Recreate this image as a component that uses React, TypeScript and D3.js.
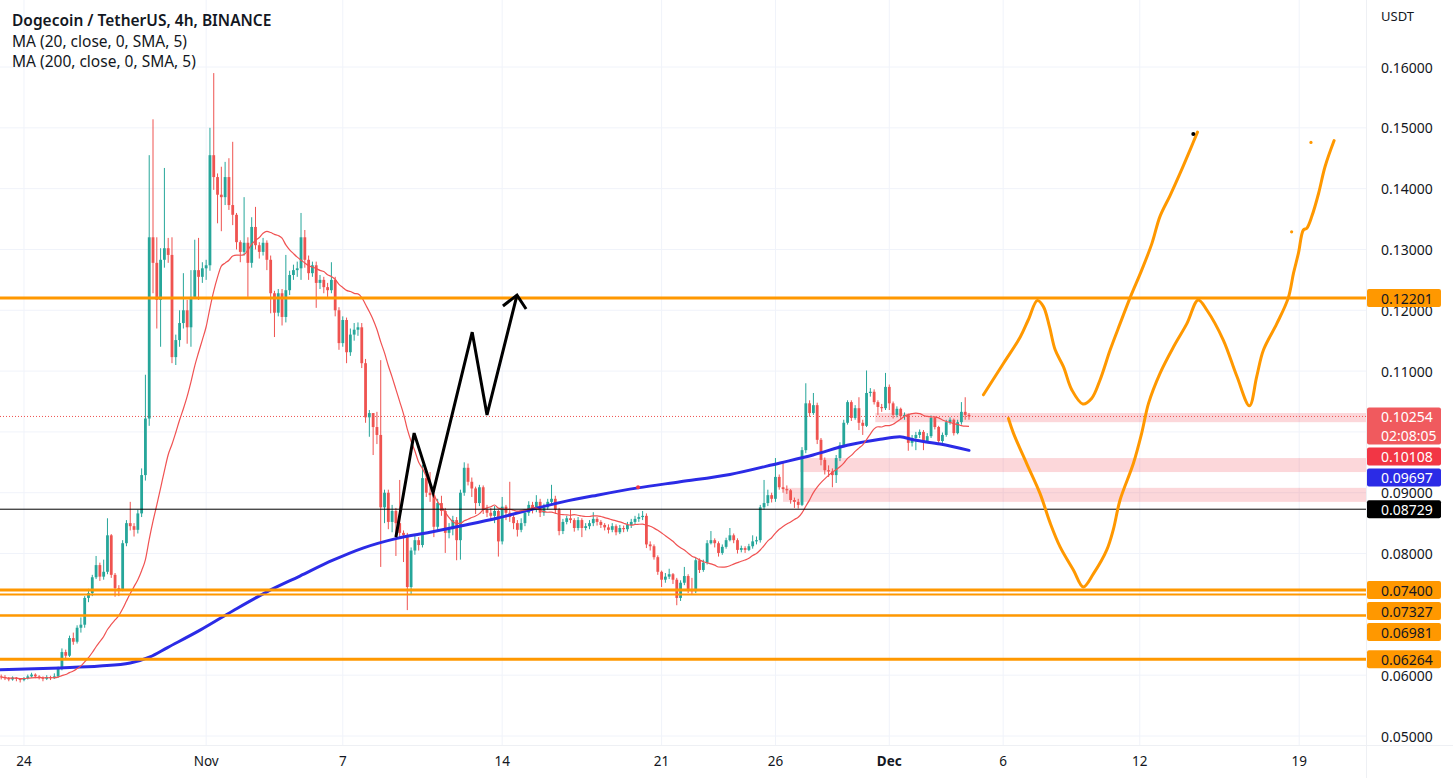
import React from "react";
import * as d3 from "d3";

// ---------- DATA ----------
const START_UTC = Date.UTC(2022, 9, 23, 0, 0); // first 4h bar
const BAR_MS = 4 * 3600 * 1000;
const firstOpen = 0.0598;

const closes = [
  0.0597, 0.0595, 0.0593, 0.0596, 0.0594, 0.0592, 0.0595, 0.0598, 0.0601, 0.0598,
  0.0596, 0.0594, 0.0597, 0.0595, 0.0598, 0.0611, 0.0638, 0.0632, 0.0661, 0.0655,
  0.0678, 0.0683, 0.0727, 0.0735, 0.0761, 0.0781, 0.0762, 0.0770, 0.0830, 0.0765,
  0.0743, 0.0740, 0.0817, 0.0850, 0.0845, 0.0839, 0.0866, 0.0929, 0.1022, 0.1320,
  0.1278, 0.1217, 0.1283, 0.1302, 0.1291, 0.1123, 0.1151, 0.1179, 0.1200, 0.1172,
  0.1222, 0.1266, 0.1255, 0.1269, 0.1274, 0.1455, 0.1419, 0.1390, 0.1386, 0.1419,
  0.1373, 0.1357, 0.1312, 0.1296, 0.1311, 0.1278, 0.1337, 0.1307, 0.1296, 0.1311,
  0.1283, 0.1228, 0.1196, 0.1228, 0.1189, 0.1233, 0.1258, 0.1266, 0.1269, 0.1320,
  0.1283, 0.1261, 0.1274, 0.1245, 0.1250, 0.1238, 0.1233, 0.1250, 0.1200, 0.1146,
  0.1184, 0.1131, 0.1160, 0.1168, 0.1172, 0.1113, 0.1024, 0.1031, 0.1008, 0.0995,
  0.0876, 0.0900, 0.0852, 0.0870, 0.0850, 0.0834, 0.0830, 0.0745, 0.0805, 0.0822,
  0.0814, 0.0924, 0.0900, 0.0896, 0.0844, 0.0883, 0.0870, 0.0834, 0.0840, 0.0855,
  0.0822, 0.0900, 0.0941, 0.0918, 0.0907, 0.0883, 0.0909, 0.0872, 0.0867, 0.0862,
  0.0870, 0.0820, 0.0877, 0.0867, 0.0860, 0.0850, 0.0839, 0.0850, 0.0867, 0.0880,
  0.0872, 0.0885, 0.0867, 0.0876, 0.0885, 0.0890, 0.0872, 0.0837, 0.0852, 0.0858,
  0.0855, 0.0842, 0.0855, 0.0842, 0.0845, 0.0850, 0.0857, 0.0852, 0.0847, 0.0843,
  0.0839, 0.0845, 0.0835, 0.0842, 0.0840, 0.0847, 0.0852, 0.0857, 0.0860, 0.0862,
  0.0815, 0.0812, 0.0794, 0.0770, 0.0757, 0.0762, 0.0766, 0.0757, 0.0727, 0.0752,
  0.0763, 0.0740, 0.0738, 0.0789, 0.0773, 0.0785, 0.0817, 0.0822, 0.0817, 0.0801,
  0.0811, 0.0822, 0.0830, 0.0822, 0.0806, 0.0809, 0.0806, 0.0812, 0.0820, 0.0822,
  0.0876, 0.0883, 0.0896, 0.0890, 0.0926, 0.0909, 0.0906, 0.0904, 0.0888, 0.0885,
  0.0880, 0.0970, 0.1047, 0.1031, 0.1044, 0.0987, 0.0954, 0.0937, 0.0935, 0.0929,
  0.0957, 0.0978, 0.1015, 0.1049, 0.1023, 0.1039, 0.1015, 0.1010, 0.1064, 0.1066,
  0.1049, 0.1041, 0.1039, 0.1074, 0.1047, 0.1028, 0.1038, 0.1026, 0.1028, 0.0982,
  0.0990, 0.0995, 0.1000, 0.0985, 0.0993, 0.1023, 0.1008, 0.0985, 0.0995, 0.1016,
  0.1020, 0.0998, 0.1016, 0.1033, 0.1028, 0.10254,
];

const highs = [
  0.0601, 0.0600, 0.0597, 0.0598, 0.0597, 0.0595, 0.0597, 0.0601, 0.0604, 0.0603,
  0.0600, 0.0598, 0.0600, 0.0599, 0.0603, 0.0614, 0.0644, 0.0642, 0.0665, 0.0670,
  0.0682, 0.0695, 0.0730, 0.0742, 0.0765, 0.0796, 0.0785, 0.0790, 0.0858, 0.0832,
  0.0768, 0.0748, 0.0822, 0.0855, 0.0885, 0.0850, 0.0872, 0.0940, 0.1094, 0.1455,
  0.1514, 0.1320, 0.1302, 0.1434, 0.1319, 0.1320, 0.1160, 0.1200, 0.1261, 0.1217,
  0.1266, 0.1316, 0.1319, 0.1279, 0.1283, 0.1500, 0.1590, 0.1425, 0.1436, 0.1444,
  0.1450, 0.1477, 0.1360, 0.1315, 0.1386, 0.1320, 0.1353, 0.1370, 0.1312, 0.1319,
  0.1315, 0.1290, 0.1232, 0.1235, 0.1235, 0.1291, 0.1265, 0.1275, 0.1280, 0.1360,
  0.1332, 0.1290, 0.1280, 0.1280, 0.1258, 0.1255, 0.1245, 0.1279, 0.1255, 0.1205,
  0.1190, 0.1188, 0.1170, 0.1179, 0.1180, 0.1179, 0.1120, 0.1036, 0.1031, 0.1033,
  0.1118, 0.0905, 0.0905, 0.0880, 0.0875, 0.0921, 0.0838, 0.0834, 0.0810, 0.0830,
  0.0827, 0.0946, 0.0928, 0.0934, 0.0900, 0.0890, 0.0895, 0.0875, 0.0850, 0.0862,
  0.0860, 0.0905, 0.0950, 0.0948, 0.0925, 0.0910, 0.0913, 0.0912, 0.0880, 0.0875,
  0.0878, 0.0872, 0.0893, 0.0880, 0.0918, 0.0865, 0.0855, 0.0858, 0.0872, 0.0886,
  0.0885, 0.0896, 0.0890, 0.0882, 0.0890, 0.0913, 0.0895, 0.0875, 0.0857, 0.0862,
  0.0872, 0.0858, 0.0860, 0.0858, 0.0850, 0.0855, 0.0868, 0.0860, 0.0855, 0.0850,
  0.0848, 0.0850, 0.0848, 0.0847, 0.0846, 0.0852, 0.0857, 0.0862, 0.0866, 0.0870,
  0.0866, 0.0820, 0.0815, 0.0797, 0.0772, 0.0768, 0.0775, 0.0768, 0.0760, 0.0756,
  0.0778, 0.0766, 0.0760, 0.0793, 0.0792, 0.0790, 0.0822, 0.0837, 0.0825, 0.0820,
  0.0815, 0.0826, 0.0842, 0.0833, 0.0825, 0.0813, 0.0812, 0.0816, 0.0830, 0.0828,
  0.0880, 0.0921, 0.0905, 0.0900, 0.0957, 0.0930, 0.0949, 0.0912, 0.0906, 0.0892,
  0.0890, 0.0975, 0.1080, 0.1052, 0.1064, 0.1048, 0.0990, 0.0958, 0.0945, 0.0940,
  0.0962, 0.0983, 0.1020, 0.1052, 0.1052, 0.1044, 0.1057, 0.1020, 0.1101, 0.1072,
  0.1070, 0.1052, 0.1046, 0.1097, 0.1078, 0.1050, 0.1042, 0.1040, 0.1032, 0.1030,
  0.0995, 0.1000, 0.1004, 0.1003, 0.0998, 0.1027, 0.1026, 0.1010, 0.0999, 0.1020,
  0.1024, 0.1022, 0.1020, 0.1049, 0.1057, 0.1031,
];

const lows = [
  0.0593, 0.0592, 0.0590, 0.0591, 0.0590, 0.0588, 0.0590, 0.0593, 0.0596, 0.0595,
  0.0593, 0.0590, 0.0592, 0.0592, 0.0594, 0.0596, 0.0608, 0.0628, 0.0630, 0.0650,
  0.0652, 0.0670, 0.0678, 0.0720, 0.0730, 0.0758, 0.0755, 0.0757, 0.0766, 0.0760,
  0.0729, 0.0730, 0.0738, 0.0812, 0.0838, 0.0828, 0.0833, 0.0860, 0.0920, 0.1010,
  0.1228, 0.1170, 0.1140, 0.1270, 0.1278, 0.1113, 0.1110, 0.1140, 0.1170, 0.1145,
  0.1140, 0.1225, 0.1217, 0.1245, 0.1250, 0.1265, 0.1398, 0.1343, 0.1330, 0.1373,
  0.1365, 0.1340, 0.1300, 0.1279, 0.1290, 0.1222, 0.1270, 0.1300, 0.1285, 0.1290,
  0.1266, 0.1195, 0.1156, 0.1190, 0.1175, 0.1180, 0.1225, 0.1250, 0.1255, 0.1250,
  0.1270, 0.1250, 0.1255, 0.1204, 0.1235, 0.1228, 0.1222, 0.1228, 0.1190, 0.1135,
  0.1140, 0.1113, 0.1125, 0.1150, 0.1158, 0.1105, 0.1015, 0.0992, 0.0962, 0.0980,
  0.0778, 0.0850, 0.0840, 0.0835, 0.0796, 0.0825, 0.0786, 0.0707, 0.0732, 0.0798,
  0.0805, 0.0810, 0.0893, 0.0885, 0.0827, 0.0838, 0.0862, 0.0801, 0.0825, 0.0830,
  0.0789, 0.0790, 0.0895, 0.0912, 0.0893, 0.0865, 0.0878, 0.0865, 0.0860, 0.0855,
  0.0850, 0.0795, 0.0815, 0.0855, 0.0852, 0.0840, 0.0828, 0.0835, 0.0845, 0.0862,
  0.0866, 0.0868, 0.0860, 0.0862, 0.0872, 0.0880, 0.0865, 0.0830, 0.0832, 0.0848,
  0.0850, 0.0836, 0.0838, 0.0827, 0.0838, 0.0840, 0.0845, 0.0846, 0.0842, 0.0838,
  0.0833, 0.0835, 0.0830, 0.0832, 0.0835, 0.0836, 0.0842, 0.0848, 0.0852, 0.0855,
  0.0809, 0.0805, 0.0790, 0.0765, 0.0745, 0.0752, 0.0758, 0.0750, 0.0715, 0.0722,
  0.0748, 0.0735, 0.0733, 0.0735, 0.0768, 0.0770, 0.0782, 0.0815, 0.0810, 0.0795,
  0.0798, 0.0808, 0.0820, 0.0817, 0.0800, 0.0802, 0.0801, 0.0804, 0.0808, 0.0815,
  0.0818, 0.0872, 0.0878, 0.0884, 0.0885, 0.0905, 0.0900, 0.0898, 0.0882, 0.0875,
  0.0874, 0.0878, 0.0965, 0.1025, 0.1028, 0.0980, 0.0945, 0.0930, 0.0926, 0.0909,
  0.0916, 0.0952, 0.0975, 0.1012, 0.1018, 0.1020, 0.1003, 0.0995, 0.1008, 0.1058,
  0.1045, 0.1028, 0.1033, 0.1036, 0.1036, 0.1022, 0.1024, 0.1020, 0.1020, 0.0969,
  0.0976, 0.0970, 0.0990, 0.0970, 0.0982, 0.0990, 0.1004, 0.0980, 0.0982, 0.0992,
  0.1012, 0.0994, 0.0996, 0.1012, 0.1020, 0.1020,
];

// MA(200): [bar index, value]
const ma200Points: [number, number][] = [
  [-0.3, 0.0609], [15.5, 0.0612], [26, 0.0615], [34, 0.0620], [39.2, 0.0630],
  [43.7, 0.0645], [52.4, 0.0674], [61.1, 0.0706], [70, 0.0737], [78.7, 0.0763],
  [87.4, 0.0789], [95.3, 0.0809], [104.3, 0.0825], [113, 0.0835], [121.7, 0.0846],
  [130.6, 0.0858], [139.3, 0.0872], [148, 0.0885], [157, 0.0896], [167.8, 0.0908],
  [178.9, 0.0918], [192, 0.0930], [205.2, 0.0949], [213.9, 0.0962], [222.9, 0.0978],
  [231.6, 0.0988], [236.8, 0.0992], [240.3, 0.0987], [247.4, 0.0980], [255, 0.09697],
];

const priceTicks = [0.05, 0.06, 0.07, 0.08, 0.09, 0.10, 0.11, 0.12, 0.13, 0.14, 0.15, 0.16];
const timeTicks = [
  Date.UTC(2022, 9, 24), Date.UTC(2022, 10, 1), Date.UTC(2022, 10, 7), Date.UTC(2022, 10, 14),
  Date.UTC(2022, 10, 21), Date.UTC(2022, 10, 26), Date.UTC(2022, 11, 1), Date.UTC(2022, 11, 6),
  Date.UTC(2022, 11, 12), Date.UTC(2022, 11, 19),
];
const timeTickLabels = ["24", "Nov", "7", "14", "21", "26", "Dec", "6", "12", "19"];

// Horizontal support/resistance levels (orange)
const orangeLevels = [0.12201, 0.074, 0.07327, 0.06981, 0.06264];
const orangeWidths = [3, 3, 2, 2.5, 3];
const blackLevel = 0.08729;
const lastPrice = 0.10254;
const ma20Last = 0.10108;
const ma200Last = 0.09697;
const countdown = "02:08:05";

// Pink zones: [startBar, low, high]
const zones: [number, number, number][] = [
  [230.3, 0.1016, 0.1031],
  [210.5, 0.0934, 0.0957],
  [206, 0.0885, 0.0908],
];

// Black hand-drawn zigzag with arrow: [bar, price]
const zigzag: [number, number][] = [
  [104.0, 0.0827], [108.8, 0.0998], [113.8, 0.09], [124.1, 0.1164], [128.0, 0.1028], [135.9, 0.1225],
];
const arrowHead: [number, number][] = [[132.2, 0.1207], [135.9, 0.1225], [138.3, 0.1202]];

// Orange free-hand projections: [bar, price]
const projectionA: [number, number][] = [
  [258.8, 0.1061], [264.1, 0.1113], [268.5, 0.1156], [270.6, 0.1184], [273.0, 0.1216],
  [274.6, 0.1206], [276.2, 0.1173], [277.7, 0.1135], [279.9, 0.1107], [282.1, 0.1069],
  [285.0, 0.1046], [287.3, 0.1055], [289.5, 0.1085], [292.2, 0.1135], [294.8, 0.1178],
  [297.4, 0.122], [300.5, 0.1266], [303.2, 0.131], [305.3, 0.1354], [308.0, 0.1389],
  [310.6, 0.1425], [313.2, 0.1463], [315.2, 0.1493],
];
const projectionB: [number, number][] = [
  [265.4, 0.1022], [266.7, 0.0998], [270.2, 0.0948], [273.7, 0.0899], [276.4, 0.085],
  [279.0, 0.0811], [282.5, 0.0773], [285.1, 0.0745], [287.8, 0.0767], [291.3, 0.0806],
  [293.0, 0.0839], [294.8, 0.0888], [298.3, 0.0948], [300.5, 0.0998], [302.3, 0.1047],
  [305.3, 0.1096], [308.9, 0.114], [312.4, 0.1178], [315.4, 0.1217], [317.7, 0.12],
  [322.0, 0.1151], [325.6, 0.1091], [328.9, 0.1043], [330.8, 0.1091], [332.6, 0.1135],
  [336.1, 0.1178], [339.1, 0.122], [340.5, 0.1261], [341.8, 0.1294], [343.1, 0.1332],
  [344.0, 0.1335], [345.3, 0.1354], [347.1, 0.1392], [348.8, 0.1436], [351.2, 0.1479],
];
const blackDot: [number, number] = [314.1, 0.149];
const orangeDots: [number, number][] = [[340.0, 0.1329], [345.1, 0.1476]];
const redMarker: [number, number] = [167.8, 0.0909];

const legendTitle = "Dogecoin / TetherUS, 4h, BINANCE";
const legendLines = ["MA (20, close, 0, SMA, 5)", "MA (200, close, 0, SMA, 5)"];

// ---------- STYLE ----------
const UP = "#26a69a";
const DOWN = "#ef5350";
const ORANGE = "#ff9800";
const BLUE = "#2b2be6";
const MA20C = "#f05252";
const TEXT = "#131722";
const GRID = "#f0f3fa";
const FONT = "'Noto Sans', 'Open Sans', sans-serif";

export default function App() {
  const W = 1453, H = 778, PW = 1366, PH = 745;
  const barTime = (i: number) => new Date(START_UTC + i * BAR_MS);
  const x = d3.scaleUtc().domain([barTime(-0.316), barTime(359.6)]).range([0, PW]);
  const y = d3.scaleLinear().domain([0.05, 0.16]).range([736, 67]);
  const bx = (i: number) => x(barTime(i));

  const candles = closes.map((c, i) => {
    const o = i === 0 ? firstOpen : closes[i - 1];
    return { i, o, c, h: Math.max(highs[i], o, c), l: Math.min(lows[i], o, c) };
  });
  const ma20 = closes.map((_, i) => d3.mean(closes.slice(Math.max(0, i - 19), i + 1)) as number);

  const ma20Path = d3.line<number>().x((_, i) => bx(i)).y((d) => y(d)).curve(d3.curveMonotoneX)(ma20) || "";
  const ma200Path = d3.line<[number, number]>().x((d) => bx(d[0])).y((d) => y(d[1])).curve(d3.curveMonotoneX)(ma200Points) || "";
  const freeLine = d3.line<[number, number]>().x((d) => bx(d[0])).y((d) => y(d[1])).curve(d3.curveCatmullRom.alpha(0.5));
  const straight = d3.line<[number, number]>().x((d) => bx(d[0])).y((d) => y(d[1]));

  const bodyW = 2.8;
  const fmt = d3.format(".5f");

  // price-axis labels, stacked so they don't overlap
  type Lab = { v: number; lines: string[]; bg: string; fg: string };
  const labs: Lab[] = [
    { v: 0.12201, lines: [fmt(0.12201)], bg: ORANGE, fg: TEXT },
    { v: lastPrice, lines: [fmt(lastPrice), countdown], bg: "#f05a5e", fg: "#fff" },
    { v: ma20Last, lines: [fmt(ma20Last)], bg: "#f23645", fg: "#fff" },
    { v: ma200Last, lines: [fmt(ma200Last)], bg: BLUE, fg: "#fff" },
    { v: blackLevel, lines: [fmt(blackLevel)], bg: "#000", fg: "#fff" },
    { v: 0.074, lines: [fmt(0.074)], bg: ORANGE, fg: TEXT },
    { v: 0.07327, lines: [fmt(0.07327)], bg: ORANGE, fg: TEXT },
    { v: 0.06981, lines: [fmt(0.06981)], bg: ORANGE, fg: TEXT },
    { v: 0.06264, lines: [fmt(0.06264)], bg: ORANGE, fg: TEXT },
  ];
  let prevBottom = -Infinity;
  let prevBg = "";
  const placed = labs.map((l) => {
    const h = 18 + 19 * (l.lines.length - 1);
    const gap = l.bg === ORANGE && prevBg === ORANGE && l.v > 0.07 ? 3 : 3;
    const top = Math.max(y(l.v) - 9, prevBottom + gap);
    prevBottom = top + h;
    prevBg = l.bg;
    return { ...l, top, h };
  });
  // axis tick labels fully hidden under a value label are not drawn (as in the reference)
  const visibleTicks = priceTicks.filter((p) => {
    const yy = y(p);
    return !placed.some((b) => yy > b.top + 2 && yy < b.top + b.h - 2);
  });

  return (
    <svg width={W} height={H} style={{ position: "absolute", left: 0, top: 0, background: "#fff" }} fontFamily={FONT}>
      <defs>
        <clipPath id="plot"><rect x={0} y={0} width={PW} height={PH} /></clipPath>
      </defs>
      <rect x={0} y={0} width={W} height={H} fill="#fff" />
      {/* grid */}
      <g>
        {priceTicks.map((p) => (
          <line key={p} x1={0} x2={PW} y1={y(p)} y2={y(p)} stroke={GRID} strokeWidth={1} />
        ))}
        {timeTicks.map((t) => (
          <line key={t} x1={x(new Date(t))} x2={x(new Date(t))} y1={0} y2={PH} stroke={GRID} strokeWidth={1} />
        ))}
      </g>

      <g clipPath="url(#plot)">
        {/* zones */}
        {zones.map(([b, lo, hi], k) => (
          <rect key={k} x={bx(b)} y={y(hi)} width={PW - bx(b)} height={y(lo) - y(hi)} fill="#f23645" fillOpacity={0.2} />
        ))}
        {/* last price dotted */}
        <line x1={0} x2={PW} y1={y(lastPrice)} y2={y(lastPrice)} stroke={DOWN} strokeWidth={1} strokeDasharray="1 2" />
        {/* candles */}
        {candles.map((d) => {
          const cx = bx(d.i);
          const col = d.c >= d.o ? UP : DOWN;
          const top = y(Math.max(d.o, d.c));
          const bh = Math.max(1, y(Math.min(d.o, d.c)) - top);
          return (
            <g key={d.i}>
              <line x1={cx} x2={cx} y1={y(d.h)} y2={y(d.l)} stroke={col} strokeWidth={1} />
              <rect x={cx - bodyW / 2} y={top} width={bodyW} height={bh} fill={col} />
            </g>
          );
        })}
        {/* moving averages */}
        <path d={ma200Path} fill="none" stroke={BLUE} strokeWidth={3} strokeLinecap="round" />
        <path d={ma20Path} fill="none" stroke={MA20C} strokeWidth={1.2} />
        <circle cx={bx(redMarker[0])} cy={y(redMarker[1])} r={2} fill="#f23645" />
        {/* horizontal levels */}
        <line x1={0} x2={PW} y1={y(blackLevel)} y2={y(blackLevel)} stroke="#000" strokeWidth={1} />
        {orangeLevels.map((p, k) => (
          <line key={p} x1={0} x2={PW} y1={y(p)} y2={y(p)} stroke={ORANGE} strokeWidth={orangeWidths[k]} />
        ))}
        {/* drawings */}
        <path d={straight(zigzag) || ""} fill="none" stroke="#000" strokeWidth={3} strokeLinejoin="miter" />
        <path d={straight(arrowHead) || ""} fill="none" stroke="#000" strokeWidth={3} strokeLinejoin="miter" />
        <path d={freeLine(projectionA) || ""} fill="none" stroke={ORANGE} strokeWidth={3} strokeLinecap="round" strokeLinejoin="round" />
        <path d={freeLine(projectionB) || ""} fill="none" stroke={ORANGE} strokeWidth={3} strokeLinecap="round" strokeLinejoin="round" />
        <circle cx={bx(blackDot[0])} cy={y(blackDot[1])} r={2} fill="#000" />
        {orangeDots.map((d, k) => (
          <circle key={k} cx={bx(d[0])} cy={y(d[1])} r={1.6} fill={ORANGE} />
        ))}
      </g>

      {/* borders */}
      <line x1={PW + 0.5} x2={PW + 0.5} y1={0} y2={H} stroke="#eef0f4" strokeWidth={1} />
      <line x1={0} x2={W} y1={PH + 0.5} y2={PH + 0.5} stroke="#eef0f4" strokeWidth={1} />

      {/* legend */}
      <text x={12} y={26} fontSize={15.5} fontWeight={600} fill={TEXT}>{legendTitle}</text>
      {legendLines.map((t, k) => (
        <text key={t} x={12} y={47 + k * 20} fontSize={15.5} fill={TEXT}>{t}</text>
      ))}

      {/* price axis */}
      <text x={1381} y={16} fontSize={13} fill={TEXT} dominantBaseline="central">USDT</text>
      {visibleTicks.map((p) => (
        <text key={p} x={1381} y={y(p)} fontSize={14} fill={TEXT} dominantBaseline="central">{fmt(p)}</text>
      ))}
      {placed.map((l, k) => (
        <g key={k}>
          <rect x={1367} y={l.top} width={74} height={l.h} rx={2} fill={l.bg} />
          {l.lines.map((t, j) => (
            <text key={j} x={1381} y={l.top + 9 + j * 19} fontSize={14} fill={l.fg} dominantBaseline="central">{t}</text>
          ))}
        </g>
      ))}

      {/* time axis */}
      {timeTicks.map((t, k) => (
        <text key={t} x={x(new Date(t))} y={761} fontSize={13.5} fill={TEXT} textAnchor="middle" dominantBaseline="central"
          fontWeight={timeTickLabels[k] === "Dec" ? 700 : 400}>{timeTickLabels[k]}</text>
      ))}
    </svg>
  );
}
